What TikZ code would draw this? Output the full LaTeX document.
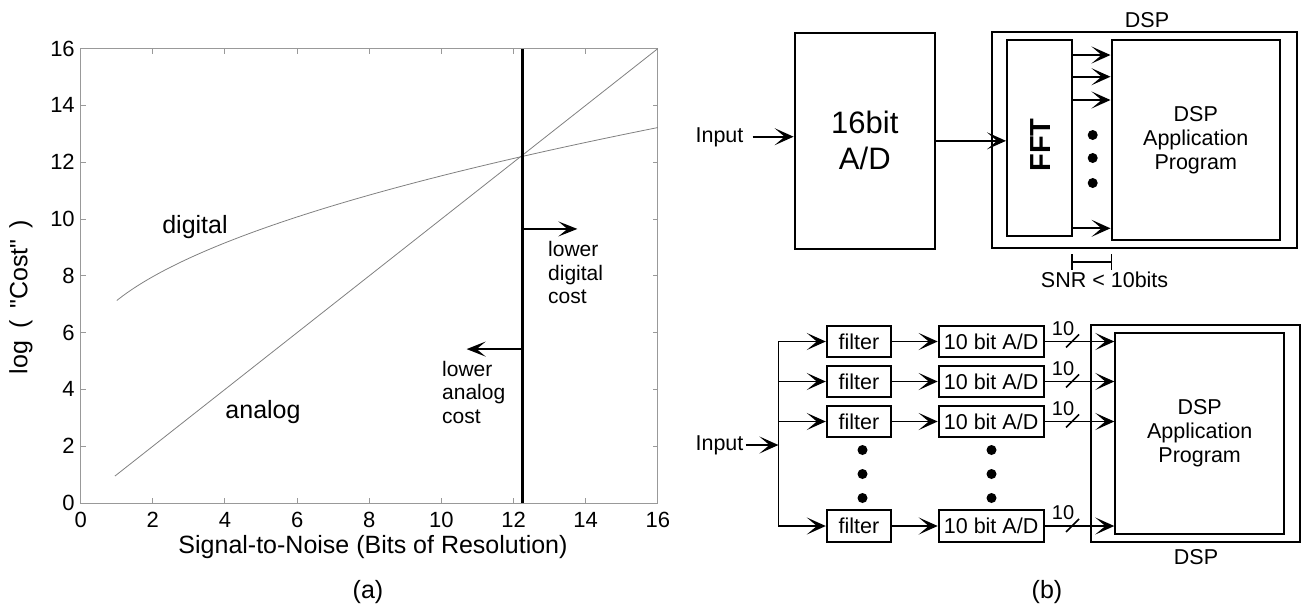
\documentclass[tikz,border=0pt]{standalone}
\usepackage{fontspec}
\setmainfont{Liberation Sans}
\newfontfamily\qfont{Liberation Sans}
\usetikzlibrary{arrows.meta}
\begin{document}
\begin{tikzpicture}[x=1pt,y=-1pt,
  box/.style={draw, line width=2pt, inner sep=0pt},
  txt/.style={inner sep=0pt, font=\fontsize{21.5}{24}\selectfont},
  bigtxt/.style={inner sep=0pt, font=\fontsize{25}{28}\selectfont},
  ticklab/.style={inner sep=0pt, font=\fontsize{22}{24}\selectfont},
  axisline/.style={draw=black!40, line width=1pt},
  curve/.style={draw=black!50, line width=0.8pt},
  arr/.style={line width=1.8pt, -{Stealth[length=19pt,width=17pt,inset=10pt]}},
  parr/.style={line width=2pt, -{Stealth[length=19pt,width=15pt,inset=9pt]}},
  dot/.style={fill=black}]
\useasboundingbox (0,0) rectangle (1301,606);
% ---------------- (a) plot ----------------
\begin{scope}[shift={(80.7,503)},x=36.07pt,y=28.4pt]
  \draw[axisline] (0,0) rectangle (16,16);
  \foreach \t in {2,4,...,14} {
    \draw[axisline] (\t,0) -- ++(0,0.18);
    \draw[axisline] (\t,16) -- ++(0,-0.18);
    \draw[axisline] (0,\t) -- ++(0.14,0);
    \draw[axisline] (16,\t) -- ++(-0.14,0);
  }
  \foreach \t in {0,2,...,16} {
    \node[ticklab] (xl\t) at (\t,-0.6) {\t};
    \node[ticklab, anchor=east] (yl\t) at (-0.16,\t) {\t};
  }
  \draw[curve] plot[domain=1:16, samples=80, smooth] (\x, {5.1+2.03*sqrt(\x)});
  \draw[curve] (0.95,0.95) -- (16,16);
  \draw[line width=3pt] (12.25,0) -- (12.25,16);
  \coordinate (vr) at (12.25,9.65);
  \coordinate (rt) at (13.77,9.65);
  \coordinate (vl) at (12.25,5.42);
  \coordinate (lt) at (10.7,5.42);
  \draw[parr] (vr) -- (rt);
  \draw[parr] (vl) -- (lt);
\end{scope}
\node[bigtxt] (digl) at (195,227) {digital};
\node[bigtxt] (anl) at (263,412) {analog};
\node[inner sep=0pt, anchor=west, align=left, font=\fontsize{21}{23.5}\selectfont] (ldc) at (548,272.5) {lower\\digital\\cost};
\node[inner sep=0pt, anchor=west, align=left, font=\fontsize{21}{23.5}\selectfont] (lac) at (442,392) {lower\\analog\\cost};
\node[bigtxt] (xlab) at (373,547) {Signal-to-Noise (Bits of Resolution)};
\node[bigtxt, rotate=90] (ylab) at (21,297) {\qfont log\hspace{0.5em}(\hspace{0.45em}"Cost"\hspace{0.45em})};
\node[bigtxt] (capa) at (368,592) {(a)};
% ---------------- (b) top ----------------
\node[txt] (in1) at (719.5,137) {Input};
\node[box, minimum width=140.4pt, minimum height=216.3pt, align=center,
      font=\fontsize{31}{36}\selectfont] (AD) at (864.8,140.85) {16bit\\A/D};
\coordinate (in1s) at (752.6,136.7);
\draw[arr] (in1s) -- (in1s -| AD.west);
\node[box, minimum width=305.5pt, minimum height=216.6pt] (DSP1) at (1144.25,140) {};
\node[txt] (dsp1l) at (1147,20) {DSP};
\node[box, minimum width=65pt, minimum height=196pt] (FFT) at (1039.5,138) {};
\node[rotate=90, inner sep=0pt, font=\bfseries\fontsize{29}{30}\selectfont] (fftl) at (1041,145) {FFT};
\node[box, minimum width=168.5pt, minimum height=200pt, align=center,
      font=\fontsize{21.5}{24}\selectfont] (APP1) at (1195.75,140) {DSP\\Application\\Program};
\draw[arr] (AD.east) -- (AD.east -| FFT.west);
\foreach \yy/\nm in {55/a,76.7/b,100/c,228.3/d} {
  \coordinate (f\nm) at (1072,\yy);
  \draw[arr] (f\nm) -- (f\nm -| APP1.west);
}
\foreach \yy/\nm in {135/a,158/b,183/c} {
  \fill[dot] (1092.7,\yy) circle[radius=5pt];
}
\coordinate (snrl) at (1072,262);
\coordinate (snrr) at (1111.5,262);
\draw[line width=1.5pt] (snrl) -- (snrr);
\draw[line width=1.5pt] (1072,254) -- (1072,270);
\draw[line width=1.5pt] (1111.5,254) -- (1111.5,270);
\node[txt] (snr) at (1104.6,280) {SNR < 10bits};
% ---------------- (b) bottom ----------------
\node[txt] (in2) at (719.5,445) {Input};
\coordinate (in2s) at (745.5,445);
\coordinate (bus) at (778.4,445);
\draw[arr] (in2s) -- (bus);
\draw[line width=1.8pt] (778.4,341.5) -- (778.4,526);
\node[box, minimum width=208.8pt, minimum height=217.3pt] (DSP2) at (1195.1,433.65) {};
\node[box, minimum width=168.7pt, minimum height=200.7pt, align=center,
      font=\fontsize{21.5}{24}\selectfont] (APP2) at (1199.65,433.65) {DSP\\Application\\Program};
\node[txt] (dsp2l) at (1196,557) {DSP};
\foreach \yy/\nm in {341.5/1,381.5/2,421.5/3,526/4} {
  \node[box, minimum width=64.2pt, minimum height=31.6pt, font=\fontsize{21.5}{24}\selectfont] (fil\nm) at (858.9,\yy) {filter};
  \node[box, minimum width=104.8pt, minimum height=31.6pt, font=\fontsize{21.5}{24}\selectfont] (ad\nm) at (991.1,\yy) {10 bit A/D};
  \coordinate (b\nm) at (778.4,\yy);
  \draw[arr] (b\nm) -- (fil\nm);
  \draw[arr] (fil\nm) -- (ad\nm);
  \draw[arr] (ad\nm) -- (ad\nm -| APP2.west);
  \draw[line width=1.5pt] (1066,\yy+6) -- (1079,\yy-7);
  \node[inner sep=0pt, font=\fontsize{20}{22}\selectfont] (ten\nm) at (1063,\yy-13) {10};
}
\foreach \yy in {450,474,498} {
  \fill[dot] (862.5,\yy) circle[radius=5pt];
  \fill[dot] (991.5,\yy) circle[radius=5pt];
}
\node[bigtxt] (capb) at (1047,592) {(b)};
\end{tikzpicture}
\end{document}
